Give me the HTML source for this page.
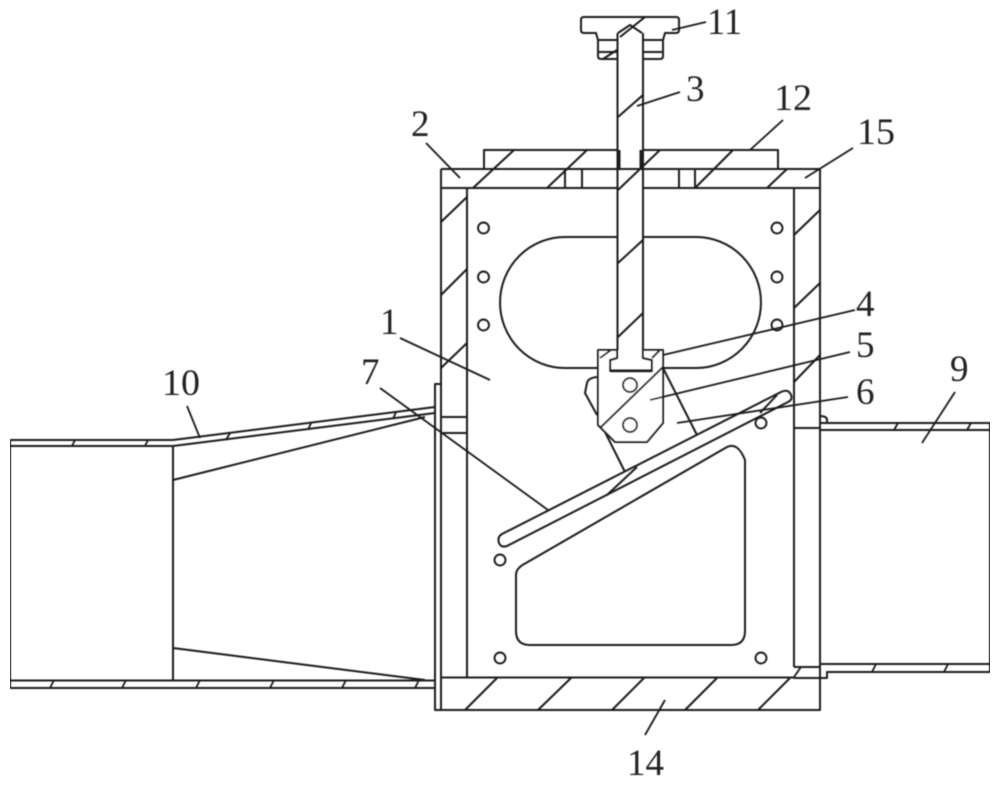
<!DOCTYPE html>
<html><head><meta charset="utf-8"><style>
html,body{margin:0;padding:0;background:#fff;width:1000px;height:786px;overflow:hidden}
svg{display:block}
text{font-family:"Liberation Serif",serif;font-size:37px;fill:#222}
</style></head><body>
<svg width="1000" height="786" viewBox="0 0 1000 786" xmlns="http://www.w3.org/2000/svg">
<defs><filter id="b" x="0" y="0" width="100%" height="100%"><feGaussianBlur stdDeviation="0.45"/></filter></defs>
<rect width="1000" height="786" fill="#fff"/>
<g filter="url(#b)">
<g fill="none" stroke="#1a1a1a" stroke-width="2" stroke-linejoin="round">
<!-- body -->
<path d="M441 169H820V710H435V384H441V710M441 169V384"/>
<path d="M441 188H617M643 188H820M467 188V677M794 188V667M441 677.5H794M794 678H820"/>
<path d="M441 417H467M441 433H467M794 428H820M794 667H820"/>
<path d="M565 169V188M582 169V188M679 169V188M695 169V188"/>
<!-- plate 12 -->
<path d="M484 169V150H617M643 150H778V169"/>
<path d="M619 150V169M641 150V169" stroke-width="3"/>
<!-- shaft -->
<path d="M617.5 33V350M643 33V350"/>
<!-- handle -->
<path d="M618 33L630 25L642 33"/>
<path d="M584 17H676Q679 17 679 20V30Q679 33 676 33H665L663 40V56Q663 59 660 59H643M643 40H663M643 52H663"/>
<path d="M584 17Q581 17 581 20V30Q581 33 584 33H596L598 40V56Q598 59 601 59H617.5M598 40H618M598 52H618"/>
<!-- window top -->
<path d="M617 237H565A65 65.500 0 0 0 565 368H598M643 237H696A65 65.500 0 0 1 696 368H663"/>
<!-- clevis -->
<path d="M617 350H598V425L615 442H647L663 423V350H643V358L652 360V371H610V360L617 358Z" fill="#fff"/>
<path d="M610 371H652" stroke-width="3"/>
<path d="M663 367L600 428M663 368L697 435M605 432L625 472M597 377Q588 378 587 383L585 393L597 415"/>
<circle cx="630" cy="385" r="7"/><circle cx="630" cy="425" r="7"/>
<path d="M600 358L611 350M652 358L660 350"/>
<!-- slot -->
<path d="M502 534L781 392Q787 389 790 393Q794 399 788 402L507 546Q501 548 499 543Q497 537 502 534Z"/>
<path d="M637 467L607 495M777 395L760 413"/>
<!-- lower window -->
<path d="M526 563L727 447Q738 442 745 460V631Q745 645 731 645H530Q516 645 516 631V575Q516 568 526 563Z"/>
<!-- holes -->
<g stroke-width="1.900">
<circle cx="483.500" cy="228" r="5.500"/><circle cx="483.500" cy="277" r="5.500"/><circle cx="483.500" cy="325" r="5.500"/>
<circle cx="777" cy="228" r="5.500"/><circle cx="777" cy="277" r="5.500"/><circle cx="777" cy="325" r="5.500"/>
<circle cx="761" cy="423" r="5.500"/><circle cx="500" cy="560" r="5.500"/><circle cx="500" cy="658" r="5.500"/><circle cx="761" cy="658" r="5.500"/>
</g>
<!-- left pipe -->
<path d="M10 440H173L435 407M10 446H173L435 413M10 440V688M173 446V680M10 680.500H435M10 688H435V710M173 480L425 417M173 648L425 680"/>
<path d="M75 440L72 446M148 440L145 446M230 433L226 440M311 423L308 430M396 412L393 419" stroke-width="1.800"/>
<path d="M54 680L50 688M126 680L122 688M200 680L196 688M274 680L270 688M346 680L342 688M419 680L415 688" stroke-width="1.800"/>
<!-- right pipe -->
<path d="M820 423H990V672H827V678H820M820 430H990M820 664H990M820 423V416Q827 416 827 420V423"/>
<path d="M898 423L894 430M971 423L967 430M876 664L872 672M948 664L944 672M801 667L794 677" stroke-width="1.800"/>
<!-- hatch -->
<path d="M514 150L473 188M587 150L547 188M660 150L618 190M733 150L695 188M787 169L767 188"/>
<path d="M441 222L467 197M441 295L467 269M441 368L467 343M794 235L820 210M794 308L820 283M794 382L820 355"/>
<path d="M618 117L643 95M618 263L643 240M618 337L643 313M620 37L645 17M603 59L617 50"/>
<path d="M465 710L497 678M538 710L571 678M612 710L644 678M685 710L717 678M758 710L790 678"/>
<!-- leaders -->
<path d="M672 30L706 22M637 106L680 92M750 150L783 120M805 178L853 148M426 143L460 178M400 338L490 380M380 388L548 510M663 355L855 310M650 400L850 352M677 423L848 397M922 443L955 392M187 406L200 438M645 735L665 700" stroke-width="1.800"/>
</g>
<text x="707" y="34" textLength="35" lengthAdjust="spacingAndGlyphs">11</text>
<text x="686" y="101">3</text>
<text x="774" y="110" textLength="38" lengthAdjust="spacingAndGlyphs">12</text>
<text x="857" y="144" textLength="38" lengthAdjust="spacingAndGlyphs">15</text>
<text x="411" y="136">2</text>
<text x="380" y="334">1</text>
<text x="361" y="384">7</text>
<text x="162" y="395" textLength="38" lengthAdjust="spacingAndGlyphs">10</text>
<text x="856" y="316">4</text>
<text x="856" y="357">5</text>
<text x="856" y="404">6</text>
<text x="950" y="381">9</text>
<text x="627" y="775" textLength="37" lengthAdjust="spacingAndGlyphs">14</text>
</g>
</svg>
</body></html>
